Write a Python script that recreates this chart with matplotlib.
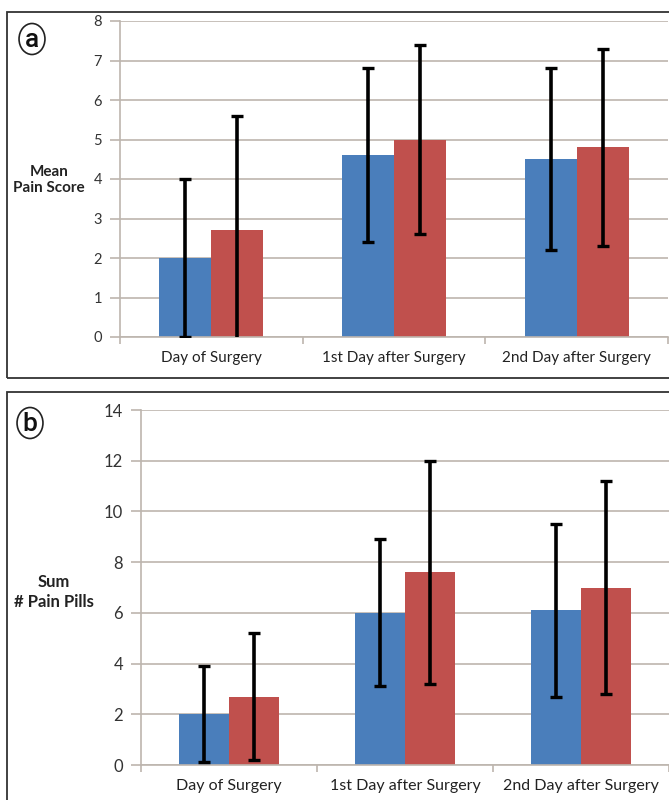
import numpy as np
import matplotlib.pyplot as plt
from matplotlib.patches import Rectangle, Circle

# data
days = ["Day of Surgery", "1st Day after Surgery", "2nd Day after Surgery"]

score_blue = [2.0, 4.6, 4.5]
score_red = [2.7, 5.0, 4.8]
score_blue_err = [2.0, 2.2, 2.3]
score_red_err = [2.9, 2.4, 2.5]

pills_blue = [2.0, 6.0, 6.1]
pills_red = [2.7, 7.6, 7.0]
pills_blue_err = [1.9, 2.9, 3.4]
pills_red_err = [2.5, 4.4, 4.2]

BLUE = "#4a7ebb"
RED = "#c0504d"
GRID = "#bdb5ae"
W, H = 669, 800

plt.rcParams['font.family'] = ['Lato', 'DejaVu Sans']

fig = plt.figure(figsize=(W / 100, H / 100), dpi=100)


def px(x0, y0, x1, y1):
    # pixel box -> figure fraction [left, bottom, width, height]
    return [x0 / W, 1 - y1 / H, (x1 - x0) / W, (y1 - y0) / H]


def draw_panel(ax, blue, red, blue_err, red_err, ymax, ystep, tick_size, xsize):
    x = np.arange(len(days))
    bw = 0.285
    ax.bar(x - bw / 2, blue, bw, color=BLUE, zorder=2)
    ax.bar(x + bw / 2, red, bw, color=RED, zorder=2)
    ax.errorbar(x - bw / 2, blue, yerr=blue_err, fmt="none", ecolor="black",
                elinewidth=2.6, capsize=4.5, capthick=2.4, zorder=3)
    ax.errorbar(x + bw / 2, red, yerr=red_err, fmt="none", ecolor="black",
                elinewidth=2.6, capsize=4.5, capthick=2.4, zorder=3)
    ax.set_xlim(-0.5, 2.5)
    ax.set_ylim(0, ymax)
    ax.set_yticks(np.arange(0, ymax + 1, ystep))
    ax.yaxis.grid(True, color=GRID, linewidth=1.2, zorder=0)
    ax.set_axisbelow(True)
    ax.set_xticks(x)
    ax.set_xticklabels(days, fontsize=xsize, color="#222222")
    ax.set_xticks([-0.5, 0.5, 1.5, 2.5], minor=True)
    ax.tick_params(axis="x", which="major", length=0, pad=10)
    ax.tick_params(axis="x", which="minor", length=5, color=GRID, width=1.2)
    ax.tick_params(axis="y", length=7, color=GRID, width=1.2, pad=6,
                   labelsize=tick_size, labelcolor="#333333")
    for s in ["top", "right"]:
        ax.spines[s].set_visible(False)
    for s in ["left", "bottom"]:
        ax.spines[s].set_color(GRID)
        ax.spines[s].set_linewidth(1.2)


# panel frames
fig.patches.append(Rectangle((7 / W, 1 - 378 / H), 700 / W, 366 / H,
                             transform=fig.transFigure, fill=False,
                             edgecolor="#333333", linewidth=1.3))
fig.patches.append(Rectangle((7 / W, -0.05), 700 / W, 1 - 392 / H + 0.05,
                             transform=fig.transFigure, fill=False,
                             edgecolor="#333333", linewidth=1.3))

# panel a
ax1 = fig.add_axes(px(120, 21, 668, 337))
draw_panel(ax1, score_blue, score_red, score_blue_err, score_red_err, 8, 1, 10.5, 11)
fig.text(49 / W, 1 - 180 / H, "Mean\nPain Score", ha="center", va="center",
         fontsize=11, fontweight="bold", linespacing=1.2, color="#222222")

# panel b
ax2 = fig.add_axes(px(141, 410, 669, 765))
draw_panel(ax2, pills_blue, pills_red, pills_blue_err, pills_red_err, 14, 2, 12, 11.5)
fig.text(54 / W, 1 - 592 / H, "Sum\n# Pain Pills", ha="center", va="center",
         fontsize=12, fontweight="bold", linespacing=1.25, color="#222222")

# circled panel letters
for cx, cy, letter in [(32, 39, "a"), (30, 423, "b")]:
    fig.patches.append(Circle((cx / W, 1 - cy / H), 15.5 / H,
                              transform=fig.transFigure, fill=False,
                              edgecolor="#222222", linewidth=1.2))
    fig.text(cx / W, 1 - (cy + 1) / H, letter, ha="center", va="center",
             fontsize=19, fontweight="medium", family=["Roboto", "DejaVu Sans"],
             color="#111111")

fig.savefig("out.png", dpi=100)
